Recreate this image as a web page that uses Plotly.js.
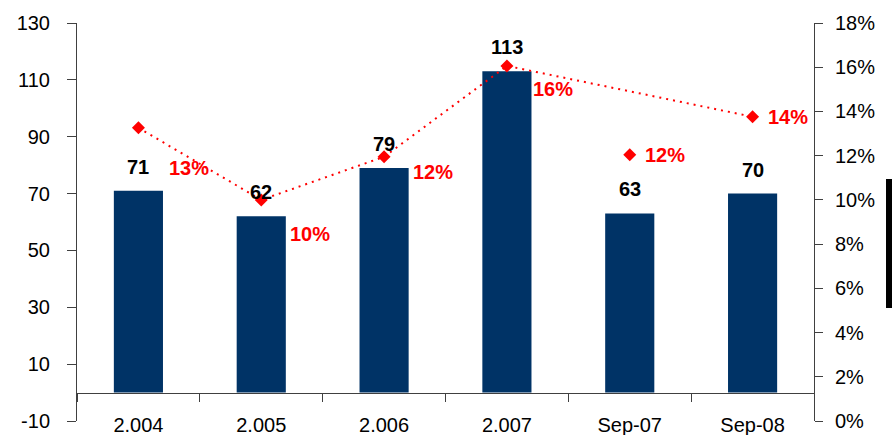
<!DOCTYPE html>
<html>
<head>
<meta charset="utf-8">
<script src="https://cdn.plot.ly/plotly-3.0.1.min.js"></script>
<style>
  html, body { margin: 0; padding: 0; background: #fff; }
  #chart { width: 892px; height: 435px; }
</style>
</head>
<body>
<div id="chart"></div>
<script>
const categories = ['2.004', '2.005', '2.006', '2.007', 'Sep-07', 'Sep-08'];
const volumes = [71, 62, 79, 113, 63, 70];
const margins = [0.1326, 0.1000, 0.1195, 0.1606, 0.1204, 0.1376];
// Sep-07 sits outside the dotted trend line in the source chart
const onTrendLine = [true, true, true, true, false, true];
const leftTicks = [-10, 10, 30, 50, 70, 90, 110, 130];

// label offsets (px) for the percentage texts
const pctShiftX = [51, 49, 49, 46, 35, 35];
const pctShiftY = [-40, -34, -15, -23, 0, 0];

const navy = '#003366';
const red = '#ff0000';
const axisColor = '#404040';
const font = 'Arial, "Liberation Sans", sans-serif';

const trendX = categories.filter((_, i) => onTrendLine[i]);
const trendY = margins.filter((_, i) => onTrendLine[i]);

const traces = [
  {
    type: 'bar', x: categories, y: volumes, xaxis: 'x', yaxis: 'y',
    marker: { color: navy, line: { width: 0 } }, width: 0.4, hoverinfo: 'skip',
  },
  {
    type: 'scatter', mode: 'lines', x: trendX, y: trendY, xaxis: 'x', yaxis: 'y2',
    line: { color: red, width: 2, dash: '2px,5px' }, hoverinfo: 'skip',
  },
  {
    type: 'scatter', mode: 'markers', x: categories, y: margins, xaxis: 'x', yaxis: 'y2',
    marker: { color: red, symbol: 'diamond', size: 10 }, hoverinfo: 'skip',
  },
];

// annotations use the category index: '2.004' would otherwise be read as a number
const volumeLabels = categories.map((c, i) => ({
  x: i, y: volumes[i], xref: 'x', yref: 'y', text: String(volumes[i]),
  showarrow: false, yanchor: 'bottom', yshift: 11,
  font: { family: font, size: 20, color: '#000', weight: 'bold' },
}));
const marginLabels = categories.map((c, i) => ({
  x: i, y: margins[i], xref: 'x', yref: 'y2', text: `${Math.round(margins[i] * 100)}%`,
  showarrow: false, xshift: pctShiftX[i], yshift: pctShiftY[i],
  font: { family: font, size: 20, color: red, weight: 'bold' },
}));

const zeroPos = 10 / 140;
const tickFont = { family: font, size: 20, color: '#000' };
const layout = {
  width: 892, height: 435,
  margin: { l: 77, r: 78, t: 23, b: 14 },
  paper_bgcolor: '#fff', plot_bgcolor: '#fff',
  showlegend: false,
  font: { family: font, size: 20, color: '#000' },
  xaxis: {
    type: 'category', range: [-0.5, 5.5], anchor: 'free', position: zeroPos,
    showline: true, linecolor: axisColor, linewidth: 1,
    ticks: 'outside', tickson: 'boundaries', ticklen: 8, tickcolor: axisColor,
    ticklabelstandoff: 14, showgrid: false, zeroline: false, automargin: false,
    tickfont: tickFont,
  },
  xaxis2: {
    overlaying: 'x', anchor: 'free', position: zeroPos, range: [-0.5, 5.5],
    tickvals: [0.5, 1.5, 2.5, 3.5, 4.5], ticks: 'inside', ticklen: 7, tickcolor: axisColor,
    showticklabels: false, showline: false, showgrid: false, zeroline: false,
  },
  yaxis: {
    range: [-10, 130], tickvals: leftTicks, ticktext: leftTicks.map(String),
    showline: true, linecolor: axisColor, linewidth: 1,
    ticks: 'outside', ticklen: 9, tickcolor: axisColor, ticklabelstandoff: 13,
    showgrid: false, zeroline: false, automargin: false,
    tickfont: tickFont,
  },
  yaxis3: {
    overlaying: 'y', range: [-10, 130], tickvals: leftTicks,
    ticks: 'inside', ticklen: 6, tickcolor: axisColor,
    showticklabels: false, showline: false, showgrid: false, zeroline: false,
  },
  yaxis2: {
    overlaying: 'y', side: 'right', range: [0, 0.18], tick0: 0, dtick: 0.02, tickformat: '.0%',
    showline: true, linecolor: axisColor, linewidth: 1,
    ticks: 'outside', ticklen: 8, tickcolor: axisColor, ticklabelstandoff: 8,
    showgrid: false, zeroline: false, automargin: false,
    tickfont: tickFont,
  },
  yaxis4: {
    overlaying: 'y', side: 'right', range: [0, 0.18], tick0: 0, dtick: 0.02,
    ticks: 'inside', ticklen: 8, tickcolor: axisColor,
    showticklabels: false, showline: false, showgrid: false, zeroline: false,
  },
  shapes: [
    { type: 'rect', xref: 'paper', yref: 'paper', x0: 1.0977, x1: 1.12, y0: 0.284, y1: 0.608,
      fillcolor: '#000', line: { width: 0 } },
  ],
  annotations: volumeLabels.concat(marginLabels),
};

Plotly.newPlot('chart', traces, layout, { displayModeBar: false, staticPlot: true });
</script>
</body>
</html>
